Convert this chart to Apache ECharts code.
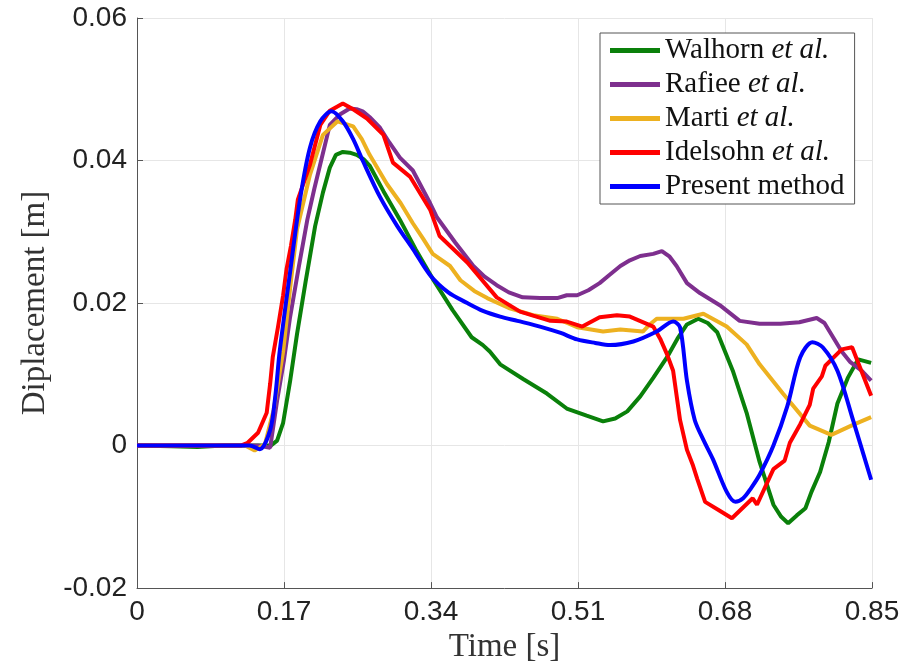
<!DOCTYPE html>
<html>
<head>
<meta charset="utf-8">
<script src="https://cdn.jsdelivr.net/npm/echarts@6/dist/echarts.min.js"></script>
<style>
  html, body { margin: 0; padding: 0; background: #fff; }
  #chart { width: 920px; height: 669px; }
</style>
</head>
<body>
<div id="chart"></div>
<script>
// tick labels
const xTicks = [0, 0.17, 0.34, 0.51, 0.68, 0.85];
const yTicks = [-0.02, 0, 0.02, 0.04, 0.06];

// Walhorn et al.
const walhornT = [0, 0.04, 0.07, 0.1, 0.13, 0.155, 0.162, 0.169, 0.177, 0.185, 0.195, 0.206, 0.215, 0.223, 0.23, 0.238, 0.246, 0.254, 0.262, 0.269, 0.285, 0.304, 0.322, 0.342, 0.365, 0.387, 0.4, 0.408, 0.42, 0.447, 0.474, 0.497, 0.52, 0.539, 0.553, 0.567, 0.582, 0.597, 0.613, 0.625, 0.636, 0.649, 0.66, 0.671, 0.689, 0.705, 0.72, 0.736, 0.745, 0.753, 0.763, 0.773, 0.78, 0.79, 0.8, 0.81, 0.822, 0.834, 0.849];
const walhornY = [0, -0.0001, -0.0002, 0, 0, 0, 0.0007, 0.0032, 0.009, 0.0156, 0.023, 0.0308, 0.0355, 0.039, 0.0408, 0.0412, 0.0411, 0.0408, 0.0402, 0.0393, 0.0357, 0.0317, 0.0276, 0.0234, 0.019, 0.0152, 0.0141, 0.0132, 0.0114, 0.0093, 0.0073, 0.0052, 0.0042, 0.0034, 0.0038, 0.0048, 0.0069, 0.0095, 0.0124, 0.015, 0.017, 0.0178, 0.0172, 0.0159, 0.0105, 0.0046, -0.0023, -0.0083, -0.01, -0.0109, -0.0098, -0.0088, -0.0065, -0.0037, 0.0005, 0.0059, 0.0095, 0.0121, 0.0116];

// Rafiee et al.
const rafieeT = [0, 0.1, 0.14, 0.154, 0.162, 0.17, 0.177, 0.187, 0.197, 0.205, 0.212, 0.223, 0.235, 0.246, 0.254, 0.261, 0.27, 0.281, 0.292, 0.304, 0.319, 0.339, 0.347, 0.368, 0.389, 0.402, 0.416, 0.43, 0.446, 0.466, 0.486, 0.497, 0.509, 0.522, 0.535, 0.547, 0.559, 0.57, 0.582, 0.597, 0.607, 0.616, 0.624, 0.636, 0.651, 0.674, 0.697, 0.72, 0.744, 0.766, 0.786, 0.795, 0.805, 0.815, 0.825, 0.838, 0.849];
const rafieeY = [0, 0, 0, -0.0003, 0.0063, 0.012, 0.018, 0.025, 0.0317, 0.036, 0.0395, 0.045, 0.0465, 0.0473, 0.0472, 0.0469, 0.046, 0.0446, 0.0425, 0.0404, 0.0386, 0.034, 0.032, 0.0285, 0.0252, 0.0237, 0.0225, 0.0215, 0.0208, 0.0207, 0.0207, 0.0211, 0.0211, 0.0218, 0.0228, 0.024, 0.0252, 0.026, 0.0266, 0.0269, 0.0273, 0.0265, 0.0252, 0.0228, 0.0214, 0.0197, 0.0175, 0.0171, 0.0171, 0.0173, 0.0179, 0.0172, 0.0152, 0.0132, 0.0117, 0.0105, 0.0091];

// Marti et al.
const martiT = [0, 0.1, 0.125, 0.136, 0.148, 0.158, 0.169, 0.177, 0.185, 0.2, 0.215, 0.232, 0.25, 0.26, 0.269, 0.289, 0.305, 0.319, 0.331, 0.342, 0.362, 0.374, 0.39, 0.405, 0.43, 0.458, 0.486, 0.509, 0.539, 0.559, 0.585, 0.593, 0.601, 0.632, 0.655, 0.682, 0.705, 0.72, 0.747, 0.778, 0.803, 0.828, 0.849];
const martiY = [0, 0, 0, -0.0007, 0.0002, 0.005, 0.0132, 0.022, 0.0303, 0.038, 0.0436, 0.0455, 0.0448, 0.043, 0.0408, 0.0367, 0.034, 0.0312, 0.029, 0.0269, 0.0252, 0.0232, 0.0217, 0.0207, 0.0193, 0.0183, 0.0178, 0.0166, 0.016, 0.0163, 0.016, 0.017, 0.0178, 0.0178, 0.0185, 0.0167, 0.0142, 0.0114, 0.0073, 0.0028, 0.0015, 0.0029, 0.004];

// Idelsohn et al.
const idelsohnT = [0, 0.12, 0.128, 0.14, 0.15, 0.154, 0.157, 0.163, 0.169, 0.173, 0.178, 0.183, 0.186, 0.2, 0.212, 0.223, 0.238, 0.25, 0.266, 0.285, 0.296, 0.316, 0.339, 0.35, 0.382, 0.416, 0.443, 0.478, 0.497, 0.515, 0.535, 0.555, 0.57, 0.597, 0.605, 0.613, 0.62, 0.628, 0.636, 0.643, 0.648, 0.657, 0.672, 0.688, 0.712, 0.717, 0.736, 0.749, 0.755, 0.767, 0.778, 0.782, 0.792, 0.796, 0.815, 0.827, 0.849];
const idelsohnY = [0, 0, 0.0004, 0.0018, 0.0046, 0.0087, 0.0124, 0.0166, 0.0211, 0.0248, 0.028, 0.0317, 0.0345, 0.0394, 0.045, 0.047, 0.048, 0.0472, 0.0459, 0.0436, 0.0397, 0.0377, 0.0331, 0.0294, 0.0257, 0.0208, 0.0188, 0.0175, 0.0174, 0.0167, 0.018, 0.0183, 0.0181, 0.0167, 0.015, 0.0128, 0.0105, 0.0036, -0.0006, -0.0028, -0.0047, -0.0079, -0.009, -0.0102, -0.0074, -0.0083, -0.0033, -0.0021, 0.0004, 0.003, 0.0057, 0.008, 0.0097, 0.0112, 0.0135, 0.0138, 0.007];

// Present method
const presentT = [0, 0.13, 0.142, 0.154, 0.16, 0.165, 0.177, 0.189, 0.2, 0.212, 0.225, 0.238, 0.25, 0.261, 0.281, 0.301, 0.319, 0.339, 0.36, 0.382, 0.4, 0.42, 0.44, 0.466, 0.49, 0.509, 0.53, 0.547, 0.574, 0.601, 0.62, 0.628, 0.636, 0.645, 0.655, 0.666, 0.682, 0.692, 0.701, 0.71, 0.72, 0.736, 0.752, 0.767, 0.781, 0.793, 0.81, 0.828, 0.849];
const presentY = [0, 0, -0.0005, 0.0022, 0.007, 0.0132, 0.0243, 0.0349, 0.0418, 0.0455, 0.0469, 0.0455, 0.043, 0.04, 0.0349, 0.0308, 0.0276, 0.0239, 0.0215, 0.02, 0.0189, 0.0181, 0.0175, 0.0167, 0.0158, 0.0149, 0.0144, 0.0141, 0.0146, 0.016, 0.0174, 0.0166, 0.0091, 0.0036, 0.0008, -0.0019, -0.0065, -0.0079, -0.0074, -0.006, -0.0041, 0, 0.0055, 0.0124, 0.0145, 0.0138, 0.0105, 0.0036, -0.0048];

const seriesNames = ['Walhorn', 'Rafiee', 'Marti', 'Idelsohn', 'Present method'];
const seriesColors = ['#0a800a', '#7e2f8e', '#edb120', '#ff0000', '#0000ff'];

// 时间与位移数组合并为坐标点
const zip = (t, y) => t.map((v, i) => [v, y[i]]);
const seriesData = [
    zip(walhornT, walhornY),
    zip(rafieeT, rafieeY),
    zip(martiT, martiY),
    zip(idelsohnT, idelsohnY),
    zip(presentT, presentY)
];

const serif = '"Liberation Serif", "DejaVu Serif", serif';
const sans = '"Liberation Sans", Arial, sans-serif';

let myChart = echarts.init(document.getElementById('chart'));
let options = {
    animation: false,
    grid: { left: 137, right: 48, top: 18, bottom: 71 },
    legend: {
        orient: 'vertical',
        left: 600,
        top: 33,
        padding: [3, 10, 3, 10],
        itemGap: 5,
        itemWidth: 50,
        itemHeight: 5,
        icon: 'rect',
        backgroundColor: '#fff',
        borderColor: '#555',
        borderWidth: 1,
        borderRadius: 0,
        data: seriesNames,
        formatter: name => name === 'Present method'
            ? '{n|Present method}'
            : '{n|' + name + '\u00a0}{i|et al.}',
        textStyle: {
            rich: {
                n: { fontFamily: serif, fontSize: 29, lineHeight: 31, color: '#111' },
                i: { fontFamily: serif, fontSize: 29, lineHeight: 31, fontStyle: 'italic', color: '#111' }
            }
        }
    },
    xAxis: {
        type: 'value',
        min: xTicks[0],
        max: xTicks[xTicks.length - 1],
        interval: 0.17,
        name: 'Time [s]',
        nameLocation: 'middle',
        nameGap: 35,
        nameTextStyle: { fontFamily: serif, fontSize: 33, color: '#333' },
        axisLine: { onZero: false, lineStyle: { color: '#555', width: 1 } },
        axisTick: { inside: true, length: 6, lineStyle: { color: '#555' } },
        axisLabel: {
            fontFamily: sans,
            fontSize: 28,
            color: '#222',
            margin: 10,
            formatter: v => v === 0 ? '0' : v.toFixed(2)
        },
        splitLine: { show: true, lineStyle: { color: '#e6e6e6', width: 1 } }
    },
    yAxis: {
        type: 'value',
        min: yTicks[0],
        max: yTicks[yTicks.length - 1],
        interval: 0.02,
        name: 'Diplacement [m]',
        nameLocation: 'middle',
        nameGap: 84,
        nameTextStyle: { fontFamily: serif, fontSize: 33, color: '#333' },
        axisLine: { show: true, lineStyle: { color: '#555', width: 1 } },
        axisTick: { show: true, inside: true, length: 6, lineStyle: { color: '#555' } },
        axisLabel: {
            fontFamily: sans,
            fontSize: 28,
            color: '#222',
            margin: 10,
            formatter: v => Math.abs(v) < 1e-9 ? '0' : v.toFixed(2)
        },
        splitLine: { show: true, lineStyle: { color: '#e6e6e6', width: 1 } }
    },
    series: seriesNames.map((name, i) => ({
        name: name,
        type: 'line',
        data: seriesData[i],
        showSymbol: false,
        smooth: name === 'Present method' ? 0.3 : false,
        lineStyle: { color: seriesColors[i], width: 4 },
        itemStyle: { color: seriesColors[i] }
    }))
};
myChart.setOption(options);
</script>
</body>
</html>
